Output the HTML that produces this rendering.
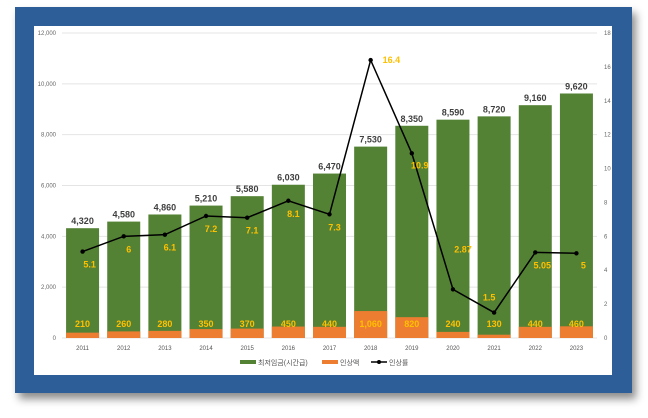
<!DOCTYPE html>
<html><head><meta charset="utf-8"><style>
body{margin:0;width:648px;height:418px;background:#fff;overflow:hidden;font-family:"Liberation Sans","Noto Sans CJK KR",sans-serif}
#frame{position:absolute;left:15px;top:7px;width:617px;height:386px;background:#2E5E97;box-shadow:4px 6px 8px rgba(0,0,0,0.45)}
#inner{position:absolute;left:34px;top:26px;width:578px;height:349px;background:#fff}
svg{position:absolute;left:0;top:0}
</style></head><body>
<div id="frame"></div>
<div id="inner"></div>
<svg id="chart" width="648" height="418"></svg>
<script>
const years=["2011","2012","2013","2014","2015","2016","2017","2018","2019","2020","2021","2022","2023"];
const wages=[4320,4580,4860,5210,5580,6030,6470,7530,8350,8590,8720,9160,9620];
const increases=[210,260,280,350,370,450,440,1060,820,240,130,440,460];
const rates=[5.1,6,6.1,7.2,7.1,8.1,7.3,16.4,10.9,2.87,1.5,5.05,5];
const leftTicks=[0,2000,4000,6000,8000,10000,12000];
const rightTicks=[0,2,4,6,8,10,12,14,16,18];
const svg=document.getElementById('chart');const NS='http://www.w3.org/2000/svg';
const top0=33,bot=338,x0=62,x1=597;
const yL=v=>bot-(v/12000)*(bot-top0);
const yR=v=>bot-(v/18)*(bot-top0);
const step=(x1-x0)/years.length;
const xC=i=>x0+step*(i+0.5);
const bw=33;
const ldx=[7,5,5,5,5,5,5,12,8,10,-5,7,7];
const ldy=[16,16,16,16,16,16,16,3,15,-37,-12,16,15];
function mk(t,a,txt){const e=document.createElementNS(NS,t);for(const k in a)e.setAttribute(k,a[k]);if(txt!==undefined)e.textContent=txt;svg.appendChild(e);return e;}
leftTicks.forEach(v=>{
 const g=mk('line',{x1:x0,x2:x1,y1:yL(v),y2:yL(v),stroke:'#e4e4e4','stroke-width':1});
 
 
 const t=mk('text',{x:56,y:yL(v)+2,'font-size':6,fill:'#666','text-anchor':'end'},v.toLocaleString('en-US'));
 
 
});
rightTicks.forEach(v=>{
 const t=mk('text',{x:604,y:yR(v)+2,'font-size':6,fill:'#666'},String(v));
 
 
});
years.forEach((y,i)=>{
 const cx=xC(i);
 const g=mk('rect',{x:cx-bw/2,y:yL(wages[i]),width:bw,height:bot-yL(wages[i]),fill:'#548235'});
 
 
 const o=mk('rect',{x:cx-bw/2,y:yL(increases[i]),width:bw,height:bot-yL(increases[i]),fill:'#ED7D31'});
 
 
 const wl=mk('text',{x:cx,y:yL(wages[i])-4,'font-size':9,'font-weight':'bold',fill:'#404040','text-anchor':'middle'},wages[i].toLocaleString('en-US'));
 
 
 const il=mk('text',{x:cx,y:327,'font-size':9,'font-weight':'bold',fill:'#FFC000','text-anchor':'middle'},increases[i].toLocaleString('en-US'));
 
 
 const xl=mk('text',{x:cx,y:350,'font-size':6,fill:'#555','text-anchor':'middle'},y);
 
 
});
const pts=rates.map((r,i)=>xC(i)+','+yR(r)).join(' ');
const pl=mk('polyline',{points:pts,fill:'none',stroke:'#000','stroke-width':1.5});


rates.forEach((r,i)=>{
 const c=mk('circle',{cx:xC(i),cy:yR(r),r:2.2,fill:'#000'});
 
 
 const anchor=i===7?'start':'middle';
 const t=mk('text',{x:xC(i)+ldx[i],y:yR(r)+ldy[i],'font-size':9,'font-weight':'bold',fill:'#FFC000','text-anchor':anchor},String(r));
 
 
});
const l1=mk('rect',{x:240,y:360,width:16,height:4,fill:'#548235'});
const t1=mk('text',{x:258,y:365,'font-size':7,fill:'#555'},'최저임금(시간급)');
const l2=mk('rect',{x:322,y:360,width:16,height:4,fill:'#ED7D31'});
const t2=mk('text',{x:340,y:365,'font-size':7,fill:'#555'},'인상액');
const l3=mk('line',{x1:371,x2:387,y1:362,y2:362,stroke:'#000','stroke-width':1.5});
const l4=mk('circle',{cx:379,cy:362,r:2,fill:'#000'});
const t3=mk('text',{x:389,y:365,'font-size':7,fill:'#555'},'인상률');
</script>
</body></html>
